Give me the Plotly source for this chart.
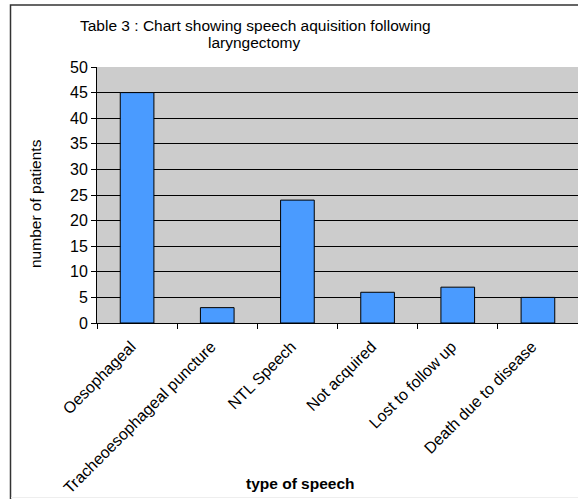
import plotly.graph_objects as go

categories = ["Oesophageal", "Tracheoesophageal puncture", "NTL Speech",
              "Not acquired", "Lost to follow up", "Death due to disease"]
patients = [45, 3, 24, 6, 7, 5]
y_ticks = [0, 5, 10, 15, 20, 25, 30, 35, 40, 45, 50]

FONT = "Liberation Sans, Arial, sans-serif"

fig = go.Figure()
fig.add_trace(go.Bar(
    x=categories, y=patients,
    marker=dict(color="#4A9BFF", line=dict(color="#000000", width=1)),
))

W, H = 578, 499
L, R, T, B = 97, 0, 67, 176
pw, ph = W - L - R, H - T - B

def px(x):
    return (x - L) / pw

def py(y):
    return (H - B - y) / ph

fig.update_layout(
    width=W, height=H,
    margin=dict(l=L, r=R, t=T, b=B, autoexpand=False),
    paper_bgcolor="white", plot_bgcolor="#CCCCCC",
    bargap=0.58, showlegend=False,
    font=dict(family=FONT, size=15, color="#000000"),
    xaxis=dict(
        type="category", tickson="boundaries", ticks="outside", ticklen=5,
        tickcolor="#000000", showline=True, linecolor="#000000", linewidth=1,
        tickangle=-45, tickfont=dict(size=16, family=FONT),
        ticklabelstandoff=7, ticklabelshift=-6,
        showgrid=False, range=[-0.5, 5.5],
    ),
    yaxis=dict(
        range=[0, 50], tickvals=y_ticks, ticks="outside", ticklen=5,
        tickcolor="#000000", showline=True, linecolor="#000000", linewidth=1,
        showgrid=True, gridcolor="#000000", gridwidth=1, zeroline=False,
        tickfont=dict(size=16, family=FONT),
    ),
    shapes=[
        dict(type="rect", xref="paper", yref="paper",
             x0=px(10.5), x1=px(600), y0=py(520), y1=py(5),
             line=dict(color="#333333", width=1.5), fillcolor="rgba(0,0,0,0)",
             layer="below"),
        dict(type="line", xref="paper", yref="paper",
             x0=px(11), x1=px(600), y0=py(497.5), y1=py(497.5),
             line=dict(color="#EEEEEE", width=1), layer="below"),
    ],
    annotations=[
        dict(text="Table 3 : Chart showing speech aquisition following",
             xref="paper", yref="paper", x=px(255), y=py(25.5),
             xanchor="center", yanchor="middle", showarrow=False,
             font=dict(size=15.5, family=FONT)),
        dict(text="laryngectomy",
             xref="paper", yref="paper", x=px(254), y=py(42),
             xanchor="center", yanchor="middle", showarrow=False,
             font=dict(size=15.5, family=FONT)),
        dict(text="number of patients", xref="paper", yref="paper",
             x=px(35), y=py(204), textangle=-90, xanchor="center", yanchor="middle",
             showarrow=False, font=dict(size=15.5, family=FONT)),
        dict(text="<b>type of speech</b>", xref="paper", yref="paper",
             x=px(300), y=py(483), xanchor="center", yanchor="middle",
             showarrow=False, font=dict(size=15.5, family=FONT)),
    ],
)

fig.write_html("out.html", config={"displayModeBar": False},
               post_script="document.body.style.margin='0';")
